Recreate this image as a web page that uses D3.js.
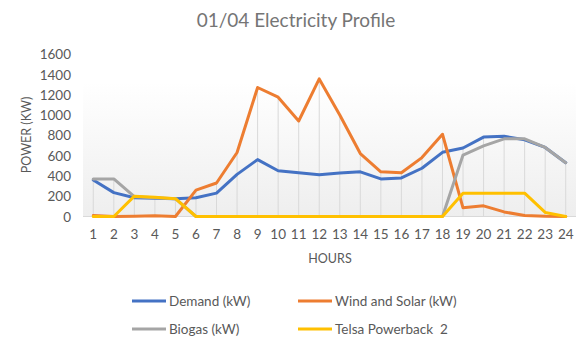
<!DOCTYPE html>
<html><head><meta charset="utf-8">
<script src="https://cdn.jsdelivr.net/npm/d3@7"></script>
<style>body{margin:0;background:#fff}svg{display:block}text{font-family:Lato,"Open Sans",sans-serif;fill:#595959;white-space:pre}</style>
</head><body><svg id="c" width="585" height="351"></svg>
<script>
const hours = ["1","2","3","4","5","6","7","8","9","10","11","12","13","14","15","16","17","18","19","20","21","22","23","24"];
const demand = [360,235,185,180,175,185,230,415,560,450,430,410,428,440,370,380,475,632,674,782,790,755,680,530];
const windSolar = [10,0,2,8,0,260,330,630,1270,1175,940,1355,1000,620,440,430,580,810,85,105,45,10,2,0];
const biogas = [370,370,195,185,175,0,0,0,0,0,0,0,0,0,0,0,0,0,605,695,765,765,680,530];
const tesla = [0,0,200,190,175,0,0,0,0,0,0,0,0,0,0,0,0,0,230,230,230,230,40,0];
const yTicks = [0,200,400,600,800,1000,1200,1400,1600];
const seriesNames = ["Demand (kW)","Wind and Solar (kW)","Biogas (kW)","Telsa Powerback  2"];
const colors = ["#4472C4","#ED7D31","#A5A5A5","#FFC000"];

const svg = d3.select("#c");
const L=83, R=576, T=54, B=216.5;
const x = d3.scaleBand().domain(hours).range([L,R]);
const y = d3.scaleLinear().domain([0,1600]).range([B,T]);
const cx = h => x(h)+x.bandwidth()/2;

const defs = svg.append("defs");
const g = defs.append("linearGradient").attr("id","bg").attr("x1",0).attr("y1",0).attr("x2",0).attr("y2",1);
g.append("stop").attr("offset","0").attr("stop-color","#ffffff");
g.append("stop").attr("offset","1").attr("stop-color","#eeeeee");
svg.append("rect").attr("x",L).attr("y",T+28).attr("width",R-L).attr("height",B-T-28).attr("fill","url(#bg)");

svg.append("text").attr("x",296).attr("y",27).attr("text-anchor","middle").style("font-size","19px").style("fill","#757575").text("01/04 Electricity Profile");

const all=[demand,windSolar,biogas,tesla];
svg.append("g").selectAll("line").data(hours).join("line")
  .attr("x1",d=>cx(d)).attr("x2",d=>cx(d))
  .attr("y1",(d,i)=>y(d3.max(all,s=>s[i]))).attr("y2",y(0))
  .attr("stroke","#d9d9d9").attr("stroke-width",1);

svg.append("line").attr("x1",L).attr("x2",R).attr("y1",y(0)).attr("y2",y(0)).attr("stroke","#d9d9d9");

const ya = svg.append("g").attr("transform",`translate(${L-12},0)`).call(d3.axisLeft(y).tickValues(yTicks).tickFormat(d3.format("d")).tickSize(0).tickPadding(0));
ya.select(".domain").remove();
ya.selectAll("text").style("font-size","13.5px").style("font-family","Lato,sans-serif").attr("fill","#595959").attr("dy","0.35em");

const xa = svg.append("g").attr("transform",`translate(0,${y(0)})`).call(d3.axisBottom(x).tickSize(0).tickPadding(13));
xa.select(".domain").remove();
xa.selectAll("text").style("font-size","13.5px").style("font-family","Lato,sans-serif").attr("fill","#595959");

svg.append("text").attr("x",330).attr("y",263).attr("text-anchor","middle").style("font-size","12.5px").text("HOURS");
svg.append("text").attr("transform","translate(31,135) rotate(-90)").attr("text-anchor","middle").style("font-size","12.5px").text("POWER (KW)");

const line = d3.line().x((d,i)=>cx(hours[i])).y(d=>y(d));
all.forEach((s,k)=>{
  svg.append("path").datum(s).attr("d",line).attr("fill","none").attr("stroke",colors[k]).attr("stroke-width",3).attr("stroke-linejoin","round").attr("stroke-linecap","round");
});

const lp=[[132,301],[298,301],[132,329],[298,329]];
seriesNames.forEach((n,k)=>{
  const [lx,ly]=lp[k];
  svg.append("line").attr("x1",lx).attr("x2",lx+34).attr("y1",ly).attr("y2",ly).attr("stroke",colors[k]).attr("stroke-width",3);
  svg.append("text").attr("x",lx+37).attr("y",ly).attr("dy","0.35em").attr("xml:space","preserve").style("font-size","13.5px").text(n);
});
</script></body></html>
